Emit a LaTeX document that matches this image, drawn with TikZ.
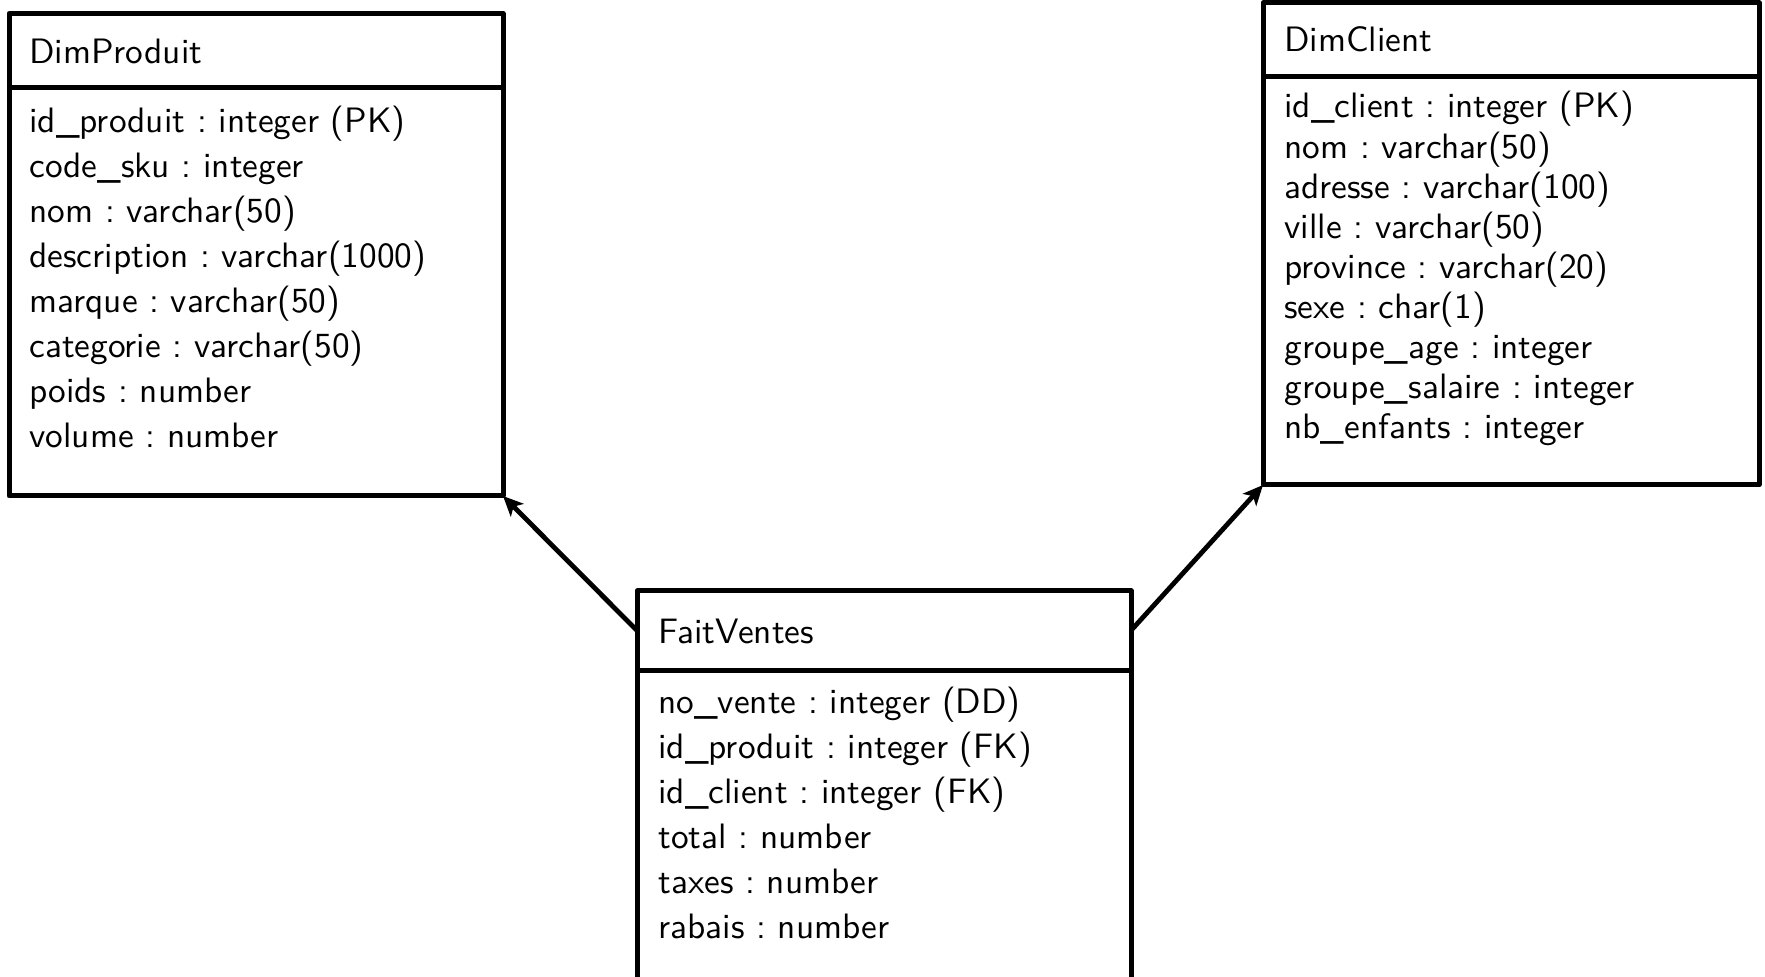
\documentclass[tikz,border=0pt]{standalone}
\usepackage{fontspec}
\usetikzlibrary{arrows.meta}
\newfontfamily\tablefont{lmsans10-regular.otf}
\frenchspacing
\begin{document}
\begin{tikzpicture}[x=0.5pt,y=-0.5pt,
  tablebox/.style={draw, line width=2.5pt, line join=round, inner sep=0pt, outer sep=0pt, anchor=north west},
  tabletitle/.style={anchor=base west, inner sep=0pt, font=\tablefont\fontsize{17.65}{20}\selectfont},
  tablefields/.style={anchor=base west, inner sep=0pt, font=\tablefont\fontsize{17.65}{#1}\selectfont},
  link/.style={line width=2.4pt, -{Stealth[length=10pt,width=9pt,inset=2.5pt]}}]
\useasboundingbox (0,0) rectangle (1765,977);
\clip (0,0) rectangle (1765,977);

% DimProduit
\node[tablebox, minimum width=247pt, minimum height=37.25pt] (prodHead) at (9,13.5) {};
\node[tablebox, minimum width=247pt, minimum height=204pt] (prodBody) at (prodHead.south west) {};
\node[tabletitle] (prodTitle) at (29,64) {DimProduit};
\node[tablefields=22.43pt] (prodFields) at (29,133) {\begin{tabular}[t]{@{}l@{}}
id\_produit : integer (PK)\\
code\_sku : integer\\
nom : varchar(50)\\
description : varchar(1000)\\
marque : varchar(50)\\
categorie : varchar(50)\\
poids : number\\
volume : number
\end{tabular}};

% DimClient
\node[tablebox, minimum width=248pt, minimum height=37pt] (clientHead) at (1263,3) {};
\node[tablebox, minimum width=248pt, minimum height=204pt] (clientBody) at (clientHead.south west) {};
\node[tabletitle] (clientTitle) at (1284,52) {DimClient};
\node[tablefields=20.05pt] (clientFields) at (1284,118) {\begin{tabular}[t]{@{}l@{}}
id\_client : integer (PK)\\
nom : varchar(50)\\
adresse : varchar(100)\\
ville : varchar(50)\\
province : varchar(20)\\
sexe : char(1)\\
groupe\_age : integer\\
groupe\_salaire : integer\\
nb\_enfants : integer
\end{tabular}};

% FaitVentes
\node[tablebox, minimum width=247pt, minimum height=39.5pt] (faitHead) at (637,591) {};
\node[tablebox, minimum width=247pt, minimum height=215pt] (faitBody) at (faitHead.south west) {};
\node[tabletitle] (faitTitle) at (658,643) {FaitVentes};
\node[tablefields=22.5pt] (faitFields) at (658,713) {\begin{tabular}[t]{@{}l@{}}
no\_vente : integer (DD)\\
id\_produit : integer (FK)\\
id\_client : integer (FK)\\
total : number\\
taxes : number\\
rabais : number
\end{tabular}};

% links from the fact table to its dimensions
\draw[link] (faitHead.west) -- (prodBody.south east);
\draw[link] (faitHead.east) -- (clientBody.south west);
\end{tikzpicture}
\end{document}
